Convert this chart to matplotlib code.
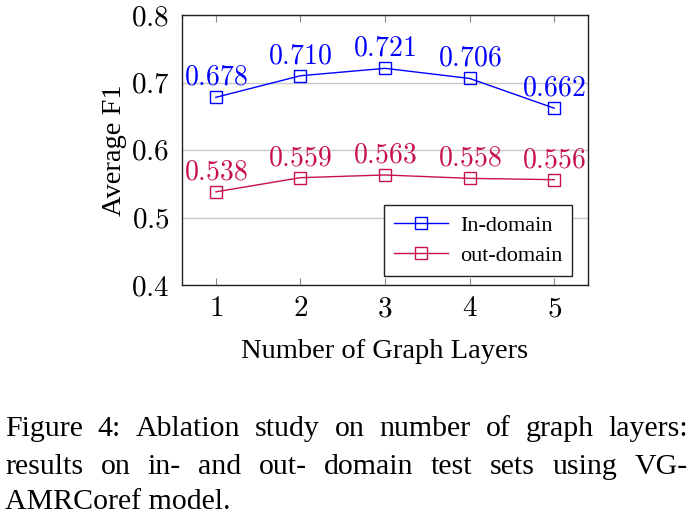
import matplotlib
matplotlib.use("Agg")
import matplotlib.pyplot as plt

layers = [1, 2, 3, 4, 5]
in_domain = [0.678, 0.710, 0.721, 0.706, 0.662]
out_domain = [0.538, 0.559, 0.563, 0.558, 0.556]
y_ticks = [0.4, 0.5, 0.6, 0.7, 0.8]
caption = ["Figure 4:  Ablation study on number of graph layers:",
           "results on in- and out- domain test sets using VG-",
           "AMRCoref model."]

plt.rcParams['font.family'] = ['Liberation Serif', 'DejaVu Serif']
plt.rcParams['mathtext.fontset'] = 'cm'

blue = '#0000FF'
red = '#C8104A'

fig = plt.figure(figsize=(6.91, 5.18), dpi=100)
ax = fig.add_axes([182/691, 1-285/518, (588-182)/691, (285-15)/518])

ax.plot(layers, in_domain, color=blue, lw=1.0, marker='s', ms=8.5,
        mfc='none', mew=1.0, label='In-domain', zorder=3)
ax.plot(layers, out_domain, color=red, lw=1.0, marker='s', ms=8.5,
        mfc='none', mew=1.0, label='out-domain', zorder=3)

for x, y in zip(layers, in_domain):
    ax.annotate('$%.3f$' % y, (x, y), xytext=(0, 9), textcoords='offset points',
                ha='center', va='baseline', color=blue, fontsize=20)
for x, y in zip(layers, out_domain):
    ax.annotate('$%.3f$' % y, (x, y), xytext=(0, 9), textcoords='offset points',
                ha='center', va='baseline', color=red, fontsize=20)

ax.set_xlim(0.6, 5.4)
ax.set_ylim(0.4, 0.8)
ax.set_xticks(layers)
ax.set_xticklabels(['$%d$' % v for v in layers])
ax.set_yticks(y_ticks)
ax.set_yticklabels(['$%.1f$' % t for t in y_ticks])
ax.tick_params(axis='x', direction='in', top=True, length=5, width=0.8,
               color='#888888', labelsize=21, pad=8)
ax.tick_params(axis='y', length=0, labelsize=21, pad=9)
ax.yaxis.grid(True, color='#c8c8c8', lw=1.0)
ax.set_axisbelow(True)
for s in ax.spines.values():
    s.set_linewidth(1.0)
    s.set_color('#222222')

ax.set_ylabel('Average F1', fontsize=20.5, labelpad=3)
ax.set_xlabel('Number of Graph Layers', fontsize=20.5, labelpad=12)

leg = ax.legend(loc='lower right', bbox_to_anchor=(0.961, 0.033), fontsize=16,
                fancybox=False, framealpha=1, edgecolor='#222222',
                borderaxespad=0, handlelength=2.4, handletextpad=0.55,
                borderpad=0.45, labelspacing=0.45)
leg.get_frame().set_linewidth(1.0)

# caption, justified lines
fig.canvas.draw()
renderer = fig.canvas.get_renderer()
left, right = 5, 688
line_y = [436, 474, 509]
for i, line in enumerate(caption):
    words = line.split()
    y = 1 - line_y[i] / 518
    if i == len(caption) - 1:
        fig.text(left / 691, y, line, fontsize=21.5, va='baseline', ha='left')
        continue
    texts = [fig.text(0, y, w, fontsize=21.5, va='baseline', ha='left') for w in words]
    widths = [t.get_window_extent(renderer).width for t in texts]
    gap = (right - left - sum(widths)) / (len(words) - 1)
    x = left
    for t, w in zip(texts, widths):
        t.set_x(x / 691)
        x += w + gap

fig.savefig('out.png', dpi=100)
